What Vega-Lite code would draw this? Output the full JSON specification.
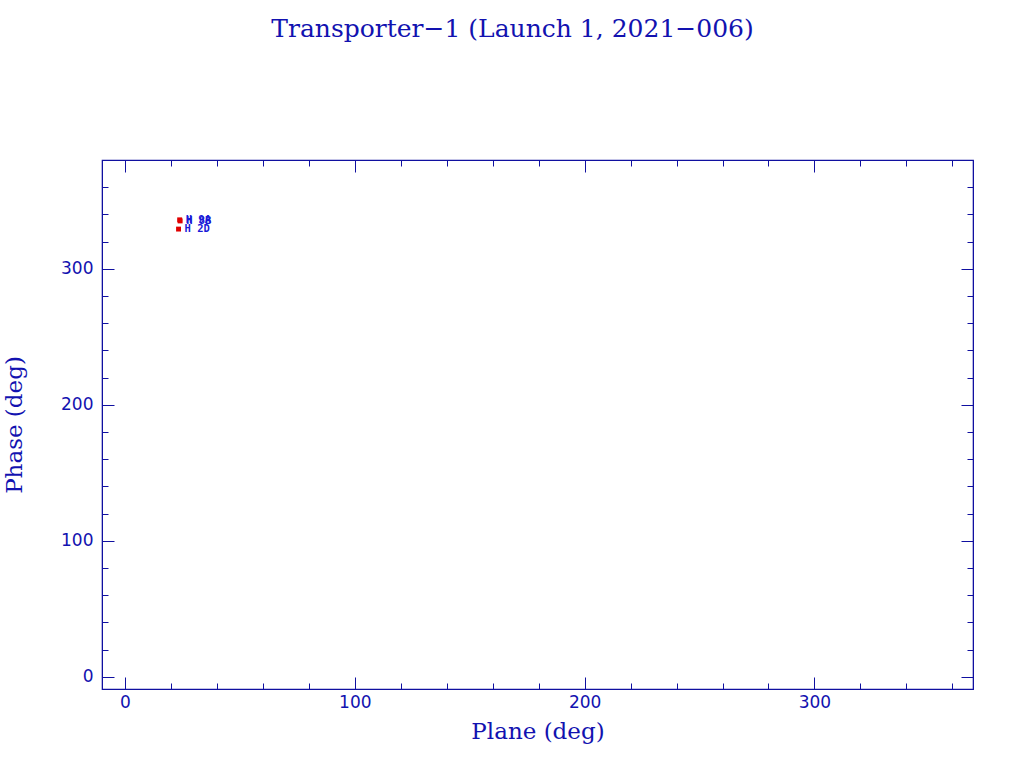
{
  "$schema": "https://vega.github.io/schema/vega-lite/v6.json",
  "autosize": {"type": "none"},
  "width": 871,
  "height": 529,
  "padding": {"left": 102, "top": 160, "right": 51, "bottom": 79},
  "background": "white",
  "config": {
    "view": {"stroke": "#1010a0", "strokeWidth": 1.2},
    "font": "DejaVu Serif"
  },
  "title": {
    "text": "Transporter−1 (Launch 1, 2021−006)",
    "font": "DejaVu Serif",
    "fontSize": 25,
    "fontWeight": "normal",
    "color": "#1212b0",
    "anchor": "middle",
    "frame": "group",
    "offset": 118,
    "dx": -25
  },
  "data": {
    "values": [
      {"plane": 23.8, "phase": 336.0, "sat": "H 9A"},
      {"plane": 24.0, "phase": 335.2, "sat": "H 8B"},
      {"plane": 23.3, "phase": 329.2, "sat": "H 2D"}
    ]
  },
  "resolve": {"axis": {"x": "independent", "y": "independent"}},
  "layer": [
    {
      "mark": {"type": "square", "size": 24, "filled": true, "color": "#e00000", "opacity": 1},
      "encoding": {
        "x": {
          "field": "plane", "type": "quantitative",
          "scale": {"domain": [-10, 369], "nice": false, "zero": false},
          "axis": {
            "orient": "bottom",
            "title": "Plane (deg)",
            "titleFont": "DejaVu Serif", "titleFontSize": 23, "titleFontWeight": "normal",
            "titleColor": "#1212b0", "titlePadding": 4,
            "values": [0,20,40,60,80,100,120,140,160,180,200,220,240,260,280,300,320,340,360],
            "labelExpr": "datum.value % 100 === 0 ? datum.label : ''",
            "labelFont": "DejaVu Sans", "labelFontSize": 17, "labelColor": "#1212b0",
            "labelPadding": 17, "labelFlush": false, "labelOverlap": false,
            "tickSize": {"condition": {"test": "datum.value % 100 === 0", "value": -12}, "value": -6},
            "tickColor": "#1010a0", "tickWidth": 1,
            "domainColor": "#1010a0", "grid": false
          }
        },
        "y": {
          "field": "phase", "type": "quantitative",
          "scale": {"domain": [-9, 380], "nice": false, "zero": false},
          "axis": {
            "orient": "left",
            "title": "Phase (deg)",
            "titleFont": "DejaVu Serif", "titleFontSize": 23, "titleFontWeight": "normal",
            "titleColor": "#1212b0", "titlePadding": 34,
            "values": [0,20,40,60,80,100,120,140,160,180,200,220,240,260,280,300,320,340,360],
            "labelExpr": "datum.value % 100 === 0 ? datum.label : ''",
            "labelFont": "DejaVu Sans", "labelFontSize": 17, "labelColor": "#1212b0",
            "labelPadding": 21, "labelFlush": false, "labelOverlap": false,
            "tickSize": {"condition": {"test": "datum.value % 100 === 0", "value": -12}, "value": -6},
            "tickColor": "#1010a0", "tickWidth": 1,
            "domainColor": "#1010a0", "grid": false
          }
        },
        "shape": {"value": "square"}
      }
    },
    {
      "mark": {"type": "text", "align": "left", "baseline": "middle", "dx": 6, "fontSize": 10.5, "font": "DejaVu Sans Mono", "fontWeight": "bold", "color": "#1a1ad8"},
      "encoding": {
        "x": {
          "field": "plane", "type": "quantitative",
          "scale": {"domain": [-10, 369], "nice": false, "zero": false},
          "axis": {
            "orient": "top", "title": null, "labels": false,
            "values": [0,20,40,60,80,100,120,140,160,180,200,220,240,260,280,300,320,340,360],
            "tickSize": {"condition": {"test": "datum.value % 100 === 0", "value": -12}, "value": -6},
            "tickColor": "#1010a0", "tickWidth": 1,
            "domainColor": "#1010a0", "grid": false
          }
        },
        "y": {
          "field": "phase", "type": "quantitative",
          "scale": {"domain": [-9, 380], "nice": false, "zero": false},
          "axis": {
            "orient": "right", "title": null, "labels": false,
            "values": [0,20,40,60,80,100,120,140,160,180,200,220,240,260,280,300,320,340,360],
            "tickSize": {"condition": {"test": "datum.value % 100 === 0", "value": -12}, "value": -6},
            "tickColor": "#1010a0", "tickWidth": 1,
            "domainColor": "#1010a0", "grid": false
          }
        },
        "text": {"field": "sat"}
      }
    }
  ]
}
